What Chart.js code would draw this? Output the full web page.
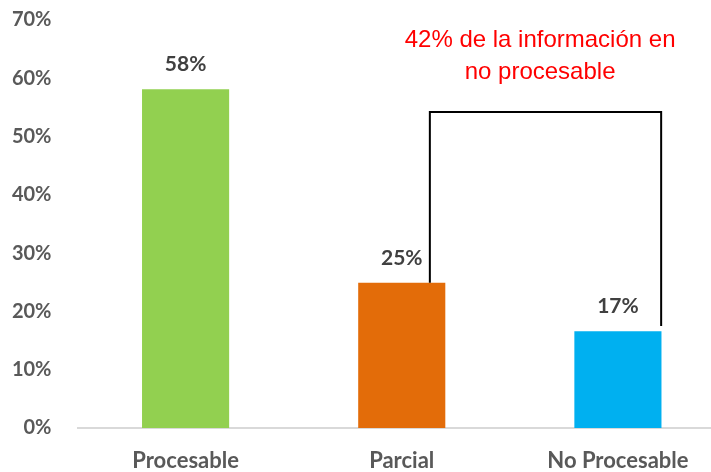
<!DOCTYPE html>
<html>
<head>
<meta charset="utf-8">
<script src="https://cdn.jsdelivr.net/npm/chart.js@4"></script>
<style>
  html, body { margin: 0; padding: 0; background: #fff; overflow: hidden; }
  #wrap { width: 726px; height: 472px; }
</style>
</head>
<body>
<div id="wrap"><canvas id="barChart" width="726" height="472"></canvas></div>
<script>
/* ── datos ── */
const CATEGORIAS = ['Procesable', 'Parcial', 'No Procesable'];
const VALORES    = [58.1, 24.9, 16.6];
const ETIQUETAS  = ['58%', '25%', '17%'];
const COLORES    = ['#92D050', '#E36C09', '#00B0F0'];
const Y_TICKS    = [0, 10, 20, 30, 40, 50, 60, 70];
const NOTA       = ['42% de la información en', 'no procesable'];

const GRIS = '#595959';

/* etiquetas encima de cada barra */
const valueLabels = {
  id: 'valueLabels',
  afterDatasetsDraw(chart) {
    const ctx = chart.ctx;
    const meta = chart.getDatasetMeta(0);
    ctx.save();
    ctx.font = "bold 21px Lato";
    ctx.fillStyle = '#404040';
    ctx.textAlign = 'center';
    ctx.textBaseline = 'middle';
    meta.data.forEach((bar, i) => {
      ctx.fillText(ETIQUETAS[i], bar.x, bar.y - 25);
    });
    ctx.restore();
  }
};

/* corchete + texto rojo */
const bracket = {
  id: 'bracket',
  afterDatasetsDraw(chart) {
    const { ctx, scales: { x, y } } = chart;
    const step = x.getPixelForValue(1) - x.getPixelForValue(0);
    const xl = x.getPixelForValue(1) + 0.13 * step;
    const xr = x.getPixelForValue(2) + 0.2 * step;
    const yTop = y.getPixelForValue(54.2);
    ctx.save();
    ctx.strokeStyle = '#000';
    ctx.lineWidth = 2;
    ctx.beginPath();
    ctx.moveTo(xl, y.getPixelForValue(VALORES[1]));
    ctx.lineTo(xl, yTop);
    ctx.lineTo(xr, yTop);
    ctx.lineTo(xr, y.getPixelForValue(17.5));
    ctx.stroke();

    ctx.fillStyle = '#FF0000';
    ctx.font = "24px 'Liberation Sans', Arial";
    ctx.textAlign = 'center';
    ctx.textBaseline = 'middle';
    const cx = x.getPixelForValue(1) + 0.64 * step;
    ctx.fillText(NOTA[0], cx, y.getPixelForValue(66.5));
    ctx.fillText(NOTA[1], cx, y.getPixelForValue(61));
    ctx.restore();
  }
};

new Chart(document.getElementById('barChart'), {
  type: 'bar',
  data: {
    labels: CATEGORIAS,
    datasets: [{
      data: VALORES,
      backgroundColor: COLORES,
      categoryPercentage: 1,
      barPercentage: 0.403,
    }]
  },
  options: {
    responsive: false,
    animation: false,
    layout: { padding: { top: 20, right: 0, left: 0, bottom: 0 } },
    plugins: { legend: { display: false }, tooltip: { enabled: false } },
    scales: {
      x: {
        grid: { display: false },
        border: { display: true, color: '#D9D9D9', width: 2 },
        ticks: { color: GRIS, font: { family: 'Lato', weight: 'bold', size: 22 }, padding: 12 },
        afterFit: s => { s.height = 44; }
      },
      y: {
        min: 0, max: 70,
        grid: { display: false },
        border: { display: false },
        afterBuildTicks: s => { s.ticks = Y_TICKS.map(v => ({ value: v })); },
        ticks: {
          color: GRIS,
          padding: 18,
          font: { family: 'Lato', weight: 'bold', size: 20 },
          callback: v => v + '%'
        },
        afterFit: s => { s.width = 77.5; s.paddingTop = 0; s.paddingBottom = 0; }
      }
    }
  },
  plugins: [valueLabels, bracket]
});
</script>
</body>
</html>
